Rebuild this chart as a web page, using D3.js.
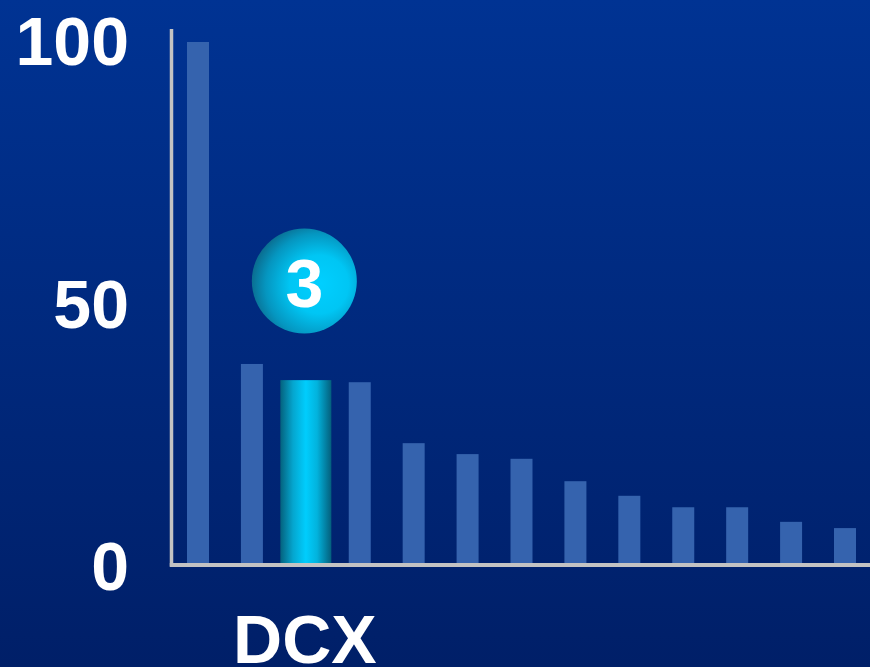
<!DOCTYPE html>
<html>
<head>
<meta charset="utf-8">
<script src="https://cdn.jsdelivr.net/npm/d3@7"></script>
<style>
    body { margin: 0; background: #002478; }
    #chart { width: 870px; height: 667px; }
    svg { display: block; }
</style>
</head>
<body>
<div id="chart"></div>
<script>
// ranks of the bars, left to right
const ranks = ["1", "2", "3", "4", "5", "6", "7", "8", "9", "10", "11", "12", "13"];
// values (0-100 scale)
const values = [100, 38.2, 35.1, 34.7, 23.0, 20.9, 20.0, 15.7, 12.9, 10.7, 10.7, 7.9, 6.7];
// y axis tick labels
const yTicks = [0, 50, 100];
// the highlighted bar and its label
const highlightRank = "3";
const highlightLabel = "DCX";

const data = ranks.map((r, i) => ({rank: r, value: values[i]}));

const height = 667,
        width = 870,
        margin = ({top: 42, right: 14, bottom: 104, left: 187});

let svg = d3.select("#chart")
    .append("svg")
    .attr("width", width)
    .attr("height", height)
    .attr("viewBox", [0, 0, width, height]);

let defs = svg.append("defs");

// background: dark blue, a bit lighter at the top
let bg = defs.append("linearGradient")
    .attr("id", "bg")
    .attr("x1", 0).attr("y1", 0).attr("x2", 0).attr("y2", 1);
bg.append("stop").attr("offset", "0%").attr("stop-color", "#003393");
bg.append("stop").attr("offset", "100%").attr("stop-color", "#001f68");

// the highlighted bar, cyan in the middle and teal on the sides
let barGrad = defs.append("linearGradient")
    .attr("id", "hbar")
    .attr("x1", 0).attr("y1", 0).attr("x2", 1).attr("y2", 0);
barGrad.append("stop").attr("offset", "0%").attr("stop-color", "#04627e");
barGrad.append("stop").attr("offset", "25%").attr("stop-color", "#05a6cf");
barGrad.append("stop").attr("offset", "50%").attr("stop-color", "#00cdfd");
barGrad.append("stop").attr("offset", "72%").attr("stop-color", "#02b3dd");
barGrad.append("stop").attr("offset", "100%").attr("stop-color", "#045f7c");

// the round badge
let ballGrad = defs.append("radialGradient")
    .attr("id", "ball")
    .attr("cx", "62%").attr("cy", "55%").attr("r", "62%")
    .attr("fx", "66%").attr("fy", "52%");
ballGrad.append("stop").attr("offset", "0%").attr("stop-color", "#00cfff");
ballGrad.append("stop").attr("offset", "45%").attr("stop-color", "#00c6f4");
ballGrad.append("stop").attr("offset", "80%").attr("stop-color", "#0596c0");
ballGrad.append("stop").attr("offset", "100%").attr("stop-color", "#0a6f92");

svg.append("rect")
    .attr("width", width)
    .attr("height", height)
    .attr("fill", "url(#bg)");

let x = d3.scaleBand()
    .domain(ranks)
    .range([margin.left, width - margin.right])
    .paddingInner(0.592)
    .paddingOuter(0);

let y = d3.scaleLinear()
    .domain([0, 100])
    .range([height - margin.bottom + 4, margin.top]); // y(0) = 567 -> bars end on the axis line

const yBase = y(0) - 4; // top edge of the x axis line

// bars
svg.selectAll(".bar")
    .data(data.filter(d => d.rank !== highlightRank))
    .join("rect")
    .attr("class", "bar")
    .attr("fill", "#3563ae")
    .attr("x", d => x(d.rank))
    .attr("width", x.bandwidth())
    .attr("y", d => y(d.value) + (yBase - y(0)) * (1 - d.value / 100))
    .attr("height", d => yBase - (y(d.value) + (yBase - y(0)) * (1 - d.value / 100)));

// highlighted bar, wider
const hd = data.find(d => d.rank === highlightRank);
const hCenter = x(hd.rank) + x.bandwidth() / 2;
const hTop = y(hd.value) + (yBase - y(0)) * (1 - hd.value / 100);
svg.append("rect")
    .attr("fill", "url(#hbar)")
    .attr("x", hCenter - 25.5)
    .attr("width", 51)
    .attr("y", hTop)
    .attr("height", yBase - hTop);

// axes as two grey lines
svg.append("line")
    .attr("x1", 171.5).attr("x2", 171.5)
    .attr("y1", y(102.5)).attr("y2", y(0) - 0.5)
    .attr("stroke", "#c3c3c3")
    .attr("stroke-width", 3.5);
svg.append("line")
    .attr("x1", 169.8).attr("x2", width)
    .attr("y1", yBase + 2).attr("y2", yBase + 2)
    .attr("stroke", "#c3c3c3")
    .attr("stroke-width", 3.8);

// y tick labels
svg.selectAll(".ytick")
    .data(yTicks)
    .join("text")
    .attr("class", "ytick")
    .attr("x", 129)
    .attr("y", d => y(d) + 23)
    .attr("text-anchor", "end")
    .attr("fill", "#ffffff")
    .attr("font-family", "'Liberation Sans', Arial, sans-serif")
    .attr("font-weight", "bold")
    .attr("font-size", 68)
    .text(d => d);

// badge with the rank above the highlighted bar
svg.append("circle")
    .attr("cx", hCenter - 1.5)
    .attr("cy", 281)
    .attr("r", 52.5)
    .attr("fill", "url(#ball)");
svg.append("text")
    .attr("x", hCenter - 1.5)
    .attr("y", 307)
    .attr("text-anchor", "middle")
    .attr("fill", "#ffffff")
    .attr("font-family", "'Liberation Sans', Arial, sans-serif")
    .attr("font-weight", "bold")
    .attr("font-size", 68)
    .text(highlightRank);

// name under the highlighted bar
svg.append("text")
    .attr("x", hCenter - 1)
    .attr("y", 663)
    .attr("text-anchor", "middle")
    .attr("fill", "#ffffff")
    .attr("font-family", "'Liberation Sans', Arial, sans-serif")
    .attr("font-weight", "bold")
    .attr("font-size", 68)
    .text(highlightLabel);
</script>
</body>
</html>
